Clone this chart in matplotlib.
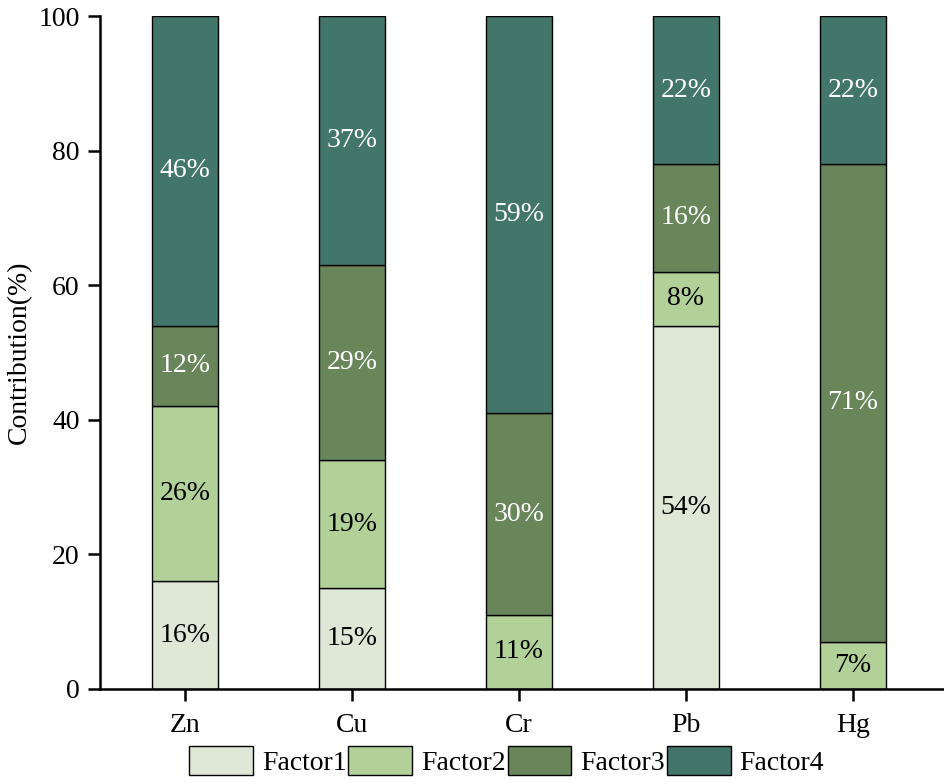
import numpy as np
import matplotlib
matplotlib.use("Agg")
import matplotlib.pyplot as plt

plt.rcParams['font.family'] = ['Liberation Serif', 'DejaVu Serif']

# data (%)
metals = ['Zn', 'Cu', 'Cr', 'Pb', 'Hg']
factor1 = [16, 15, 0, 54, 0]
factor2 = [26, 19, 11, 8, 7]
factor3 = [12, 29, 30, 16, 71]
factor4 = [46, 37, 59, 22, 22]
factor_names = ['Factor1', 'Factor2', 'Factor3', 'Factor4']

colors = ['#dfe8d6', '#b2d198', '#68865a', '#43766b']
text_colors = ['black', 'black', 'white', 'white']
fs = 20

fig = plt.figure(figsize=(9.44, 7.84), dpi=100)
ax = fig.add_axes([100 / 944, 1 - 689 / 784, 844 / 944, 673 / 784])

x = np.arange(len(metals))
bottom = np.zeros(len(metals))
handles = []
for vals, name, col, tcol in zip([factor1, factor2, factor3, factor4],
                                 factor_names, colors, text_colors):
    vals = np.array(vals, dtype=float)
    bars = ax.bar(x, vals, width=0.4, bottom=bottom, color=col,
                  edgecolor='black', linewidth=1.0, label=name)
    handles.append(bars)
    for xi, b, v in zip(x, bottom, vals):
        if v > 0:
            ax.text(xi, b + v / 2, f"{int(v)}%", ha='center', va='center',
                    fontsize=fs, color=tcol)
    bottom += vals

ax.set_xlim(-0.509, 4.545)
ax.set_ylim(0, 100)
ax.set_yticks([0, 20, 40, 60, 80, 100])
ax.set_xticks(x)
ax.set_xticklabels(metals)
ax.set_ylabel('Contribution(%)', fontsize=fs, labelpad=5)
ax.tick_params(axis='both', labelsize=fs, direction='out', length=8.5,
               width=1.8, pad=6)
ax.tick_params(axis='x', pad=9)

for side in ['top', 'right']:
    ax.spines[side].set_visible(False)
for side in ['left', 'bottom']:
    ax.spines[side].set_linewidth(1.8)

ax.legend(handles=handles, labels=factor_names, loc='center',
          bbox_to_anchor=(0.482, -0.107), ncol=4, frameon=False,
          fontsize=fs, handlelength=2.3, handleheight=1.2,
          handletextpad=0.33, columnspacing=0.05, borderaxespad=0)

fig.savefig('out.png', dpi=100)
